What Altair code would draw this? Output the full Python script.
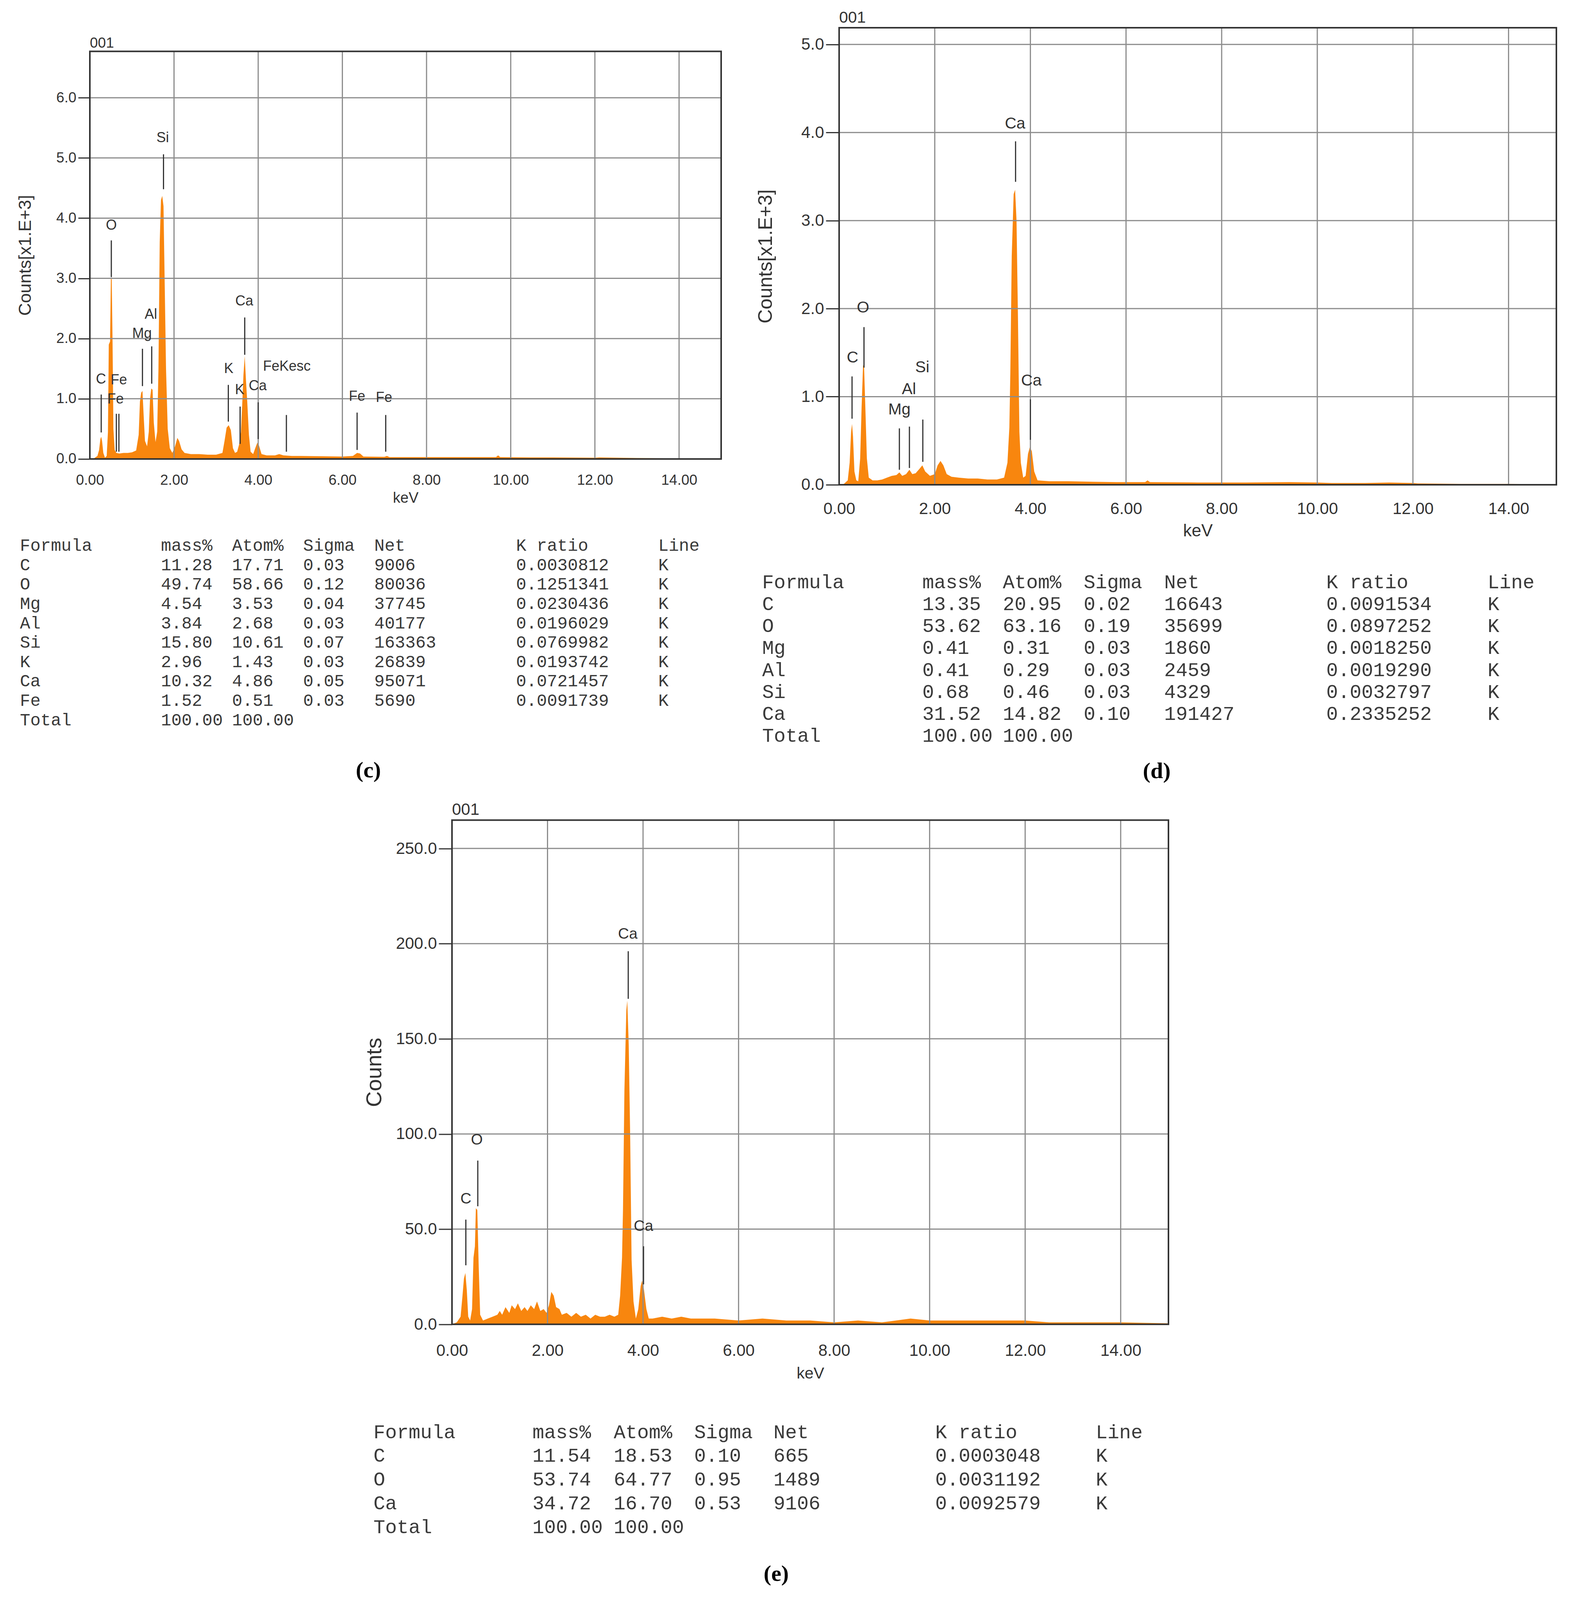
import altair as alt
import pandas as pd

# ---------------------------------------------------------------- data
# panel (c) spectrum: energy (keV) and counts (x1E+3)
c_kev = [0.00, 0.10, 0.18, 0.22, 0.25, 0.27, 0.29, 0.32, 0.36, 0.40, 0.43, 0.45, 0.48, 0.50, 0.52,
         0.54, 0.56, 0.59, 0.63, 0.70, 0.80, 0.90, 1.00, 1.10, 1.16, 1.19, 1.22, 1.25, 1.28, 1.31,
         1.36, 1.40, 1.43, 1.46, 1.49, 1.52, 1.56, 1.60, 1.63, 1.66, 1.69, 1.72, 1.75, 1.78, 1.81,
         1.85, 1.90, 1.96, 2.02, 2.08, 2.12, 2.18, 2.25, 2.40, 2.60, 2.80, 3.00, 3.15, 3.20, 3.25,
         3.30, 3.35, 3.40, 3.45, 3.50, 3.55, 3.59, 3.62, 3.65, 3.68, 3.71, 3.74, 3.78, 3.82, 3.88,
         3.93, 3.98, 4.02, 4.08, 4.20, 4.40, 4.50, 4.60, 4.80, 5.00, 5.50, 6.00, 6.25, 6.35, 6.42,
         6.50, 7.00, 7.06, 7.12, 8.00, 9.00, 9.65, 9.70, 9.75, 10.50, 11.00, 12.00, 12.10, 13.00,
         14.00, 15.00]
c_cnt = [0.00, 0.01, 0.05, 0.15, 0.33, 0.37, 0.30, 0.10, 0.02, 0.05, 0.45, 1.90, 1.95, 3.00, 2.98,
         1.92, 0.50, 0.15, 0.10, 0.09, 0.10, 0.10, 0.11, 0.14, 0.40, 0.95, 1.10, 1.13, 0.70, 0.30,
         0.21, 0.45, 1.00, 1.17, 1.15, 0.60, 0.28, 0.45, 1.50, 3.60, 4.30, 4.37, 4.20, 2.85, 1.50,
         0.50, 0.18, 0.10, 0.20, 0.35, 0.30, 0.16, 0.10, 0.08, 0.08, 0.07, 0.07, 0.10, 0.30, 0.52,
         0.56, 0.48, 0.18, 0.10, 0.12, 0.25, 0.45, 0.90, 1.40, 1.71, 1.30, 0.95, 0.40, 0.12, 0.08,
         0.18, 0.27, 0.22, 0.08, 0.06, 0.06, 0.08, 0.06, 0.05, 0.05, 0.045, 0.04, 0.05, 0.10, 0.09,
         0.04, 0.035, 0.05, 0.03, 0.03, 0.03, 0.03, 0.06, 0.03, 0.025, 0.025, 0.02, 0.025, 0.015,
         0.01, 0.005]
c_mk_x = [0.27, 0.63, 0.69, 0.51, 1.25, 1.47, 1.75, 3.29, 3.57, 3.68, 4.00, 4.67, 6.35, 7.03]
c_mk_lo = [0.44, 0.12, 0.12, 3.02, 1.21, 1.25, 4.48, 0.62, 0.25, 1.73, 0.33, 0.12, 0.15, 0.12]
c_mk_hi = [1.07, 0.75, 0.75, 3.63, 1.83, 1.87, 5.06, 1.23, 0.87, 2.35, 0.94, 0.73, 0.77, 0.73]
c_lb_txt = ["C", "Fe", "Fe", "O", "Mg", "Al", "Si", "K", "K", "Ca", "Ca", "FeKesc", "Fe", "Fe"]
c_lb_x = [0.265, 0.69, 0.61, 0.51, 1.24, 1.45, 1.73, 3.30, 3.56, 3.67, 3.99, 4.68, 6.35, 6.99]
c_lb_y = [1.32, 1.31, 0.99, 3.88, 2.08, 2.40, 5.33, 1.50, 1.15, 2.62, 1.21, 1.54, 1.04, 1.02]
c_yticks = [0, 1, 2, 3, 4, 5, 6]
c_ymax = 6.77

# panel (d)
d_kev = [0.00, 0.10, 0.18, 0.22, 0.25, 0.27, 0.29, 0.32, 0.36, 0.40, 0.44, 0.47, 0.50, 0.52, 0.55,
         0.58, 0.62, 0.70, 0.80, 0.90, 1.00, 1.10, 1.20, 1.26, 1.32, 1.40, 1.47, 1.53, 1.60, 1.68,
         1.74, 1.80, 1.90, 2.00, 2.06, 2.12, 2.18, 2.25, 2.35, 2.50, 2.70, 2.90, 3.10, 3.30, 3.45,
         3.52, 3.56, 3.58, 3.61, 3.65, 3.68, 3.71, 3.74, 3.77, 3.80, 3.85, 3.90, 3.95, 3.99, 4.03,
         4.08, 4.15, 4.40, 4.80, 5.20, 5.80, 6.40, 6.45, 6.50, 7.50, 8.50, 9.40, 10.00, 10.30, 11.00,
         11.50, 12.00, 12.10, 13.00, 14.00, 15.00]
d_cnt = [0.00, 0.01, 0.05, 0.25, 0.60, 0.69, 0.55, 0.15, 0.05, 0.04, 0.30, 0.88, 1.35, 1.37, 0.85,
         0.30, 0.08, 0.05, 0.05, 0.06, 0.08, 0.10, 0.11, 0.14, 0.10, 0.12, 0.17, 0.12, 0.13, 0.18,
         0.22, 0.15, 0.10, 0.12, 0.22, 0.27, 0.22, 0.12, 0.09, 0.08, 0.07, 0.07, 0.06, 0.06, 0.08,
         0.25, 0.65, 1.26, 2.60, 3.30, 3.35, 3.00, 1.90, 0.60, 0.25, 0.08, 0.10, 0.35, 0.43, 0.38,
         0.15, 0.05, 0.04, 0.04, 0.035, 0.03, 0.03, 0.05, 0.03, 0.025, 0.025, 0.03, 0.025, 0.02, 0.02,
         0.025, 0.02, 0.015, 0.01, 0.01, 0.005]
d_mk_x = [0.27, 0.52, 1.26, 1.47, 1.75, 3.69, 4.00]
d_mk_lo = [0.75, 1.33, 0.17, 0.19, 0.26, 3.44, 0.51]
d_mk_hi = [1.23, 1.79, 0.64, 0.66, 0.74, 3.90, 0.97]
d_lb_txt = ["C", "O", "Mg", "Al", "Si", "Ca", "Ca"]
d_lb_x = [0.28, 0.50, 1.26, 1.46, 1.74, 3.68, 4.02]
d_lb_y = [1.44, 2.01, 0.85, 1.08, 1.33, 4.10, 1.18]
d_yticks = [0, 1, 2, 3, 4, 5]
d_ymax = 5.19

# panel (e)
e_kev = [0.00, 0.10, 0.18, 0.22, 0.25, 0.28, 0.31, 0.34, 0.38, 0.42, 0.45, 0.48, 0.50, 0.53, 0.56,
         0.59, 0.65, 0.75, 0.85, 0.95, 1.00, 1.05, 1.12, 1.20, 1.25, 1.32, 1.38, 1.45, 1.52, 1.58,
         1.65, 1.72, 1.78, 1.85, 1.92, 1.98, 2.03, 2.08, 2.13, 2.18, 2.25, 2.30, 2.40, 2.50, 2.60,
         2.70, 2.80, 2.90, 3.00, 3.10, 3.20, 3.30, 3.40, 3.48, 3.52, 3.56, 3.58, 3.61, 3.65, 3.67,
         3.70, 3.73, 3.76, 3.80, 3.85, 3.90, 3.95, 3.98, 4.02, 4.07, 4.12, 4.20, 4.40, 4.60, 4.80,
         5.00, 5.50, 6.00, 6.50, 7.00, 7.50, 8.00, 8.50, 9.00, 9.60, 10.00, 10.50, 11.00, 11.50,
         12.00, 12.50, 13.00, 14.00, 15.00]
e_cnt = [0, 1, 4, 15, 24, 27, 18, 4, 2, 8, 35, 41, 61, 60, 30,
         5, 2, 3, 4, 5, 7, 5, 9, 6, 10, 8, 11, 7, 9, 7,
         10, 8, 12, 7, 8, 6, 10, 17, 15, 9, 8, 5, 6, 4, 6,
         4, 5, 3, 5, 4, 4, 5, 4, 5, 15, 35, 60, 123, 165, 170,
         147, 100, 34, 12, 3, 8, 20, 23, 18, 8, 3, 3, 4, 3, 4,
         3, 3, 2, 3, 2, 2, 1, 2, 1, 3, 2, 2, 2, 2,
         2, 1, 1, 1, 0.5]
e_mk_x = [0.29, 0.54, 3.69, 4.01]
e_mk_lo = [31, 62, 171, 21]
e_mk_hi = [55, 86, 196, 41]
e_lb_txt = ["C", "O", "Ca", "Ca"]
e_lb_x = [0.29, 0.52, 3.68, 4.01]
e_lb_y = [66, 97, 205, 51.5]
e_yticks = [0, 50, 100, 150, 200, 250]
e_ymax = 264.9

x_ticks = [0, 2, 4, 6, 8, 10, 12, 14]
x_grid = [2, 4, 6, 8, 10, 12, 14]
sample_id = "001"

# quantification tables
table_headers = ["Formula", "mass%", "Atom%", "Sigma", "Net", "K ratio", "Line"]
c_formula = ["C", "O", "Mg", "Al", "Si", "K", "Ca", "Fe"]
c_mass = [11.28, 49.74, 4.54, 3.84, 15.80, 2.96, 10.32, 1.52]
c_atom = [17.71, 58.66, 3.53, 2.68, 10.61, 1.43, 4.86, 0.51]
c_sigma = [0.03, 0.12, 0.04, 0.03, 0.07, 0.03, 0.05, 0.03]
c_net = [9006, 80036, 37745, 40177, 163363, 26839, 95071, 5690]
c_kratio = [0.0030812, 0.1251341, 0.0230436, 0.0196029, 0.0769982, 0.0193742, 0.0721457, 0.0091739]
c_line = ["K", "K", "K", "K", "K", "K", "K", "K"]

d_formula = ["C", "O", "Mg", "Al", "Si", "Ca"]
d_mass = [13.35, 53.62, 0.41, 0.41, 0.68, 31.52]
d_atom = [20.95, 63.16, 0.31, 0.29, 0.46, 14.82]
d_sigma = [0.02, 0.19, 0.03, 0.03, 0.03, 0.10]
d_net = [16643, 35699, 1860, 2459, 4329, 191427]
d_kratio = [0.0091534, 0.0897252, 0.0018250, 0.0019290, 0.0032797, 0.2335252]
d_line = ["K", "K", "K", "K", "K", "K"]

e_formula = ["C", "O", "Ca"]
e_mass = [11.54, 53.74, 34.72]
e_atom = [18.53, 64.77, 16.70]
e_sigma = [0.10, 0.95, 0.53]
e_net = [665, 1489, 9106]
e_kratio = [0.0003048, 0.0031192, 0.0092579]
e_line = ["K", "K", "K"]

total_mass = 100.00
total_atom = 100.00

# ---------------------------------------------------------------- styles
ORANGE = "#F8860E"
GRID = "#8c8c8c"
DARK = "#333333"
SANS = "Liberation Sans"
MONO = "Liberation Mono"
SERIF = "Liberation Serif"
K = 0.93  # vertical layout factor so that the whole figure stays inside the visible page


def ky(v):
    return round(v * K, 1)


def build_table(formula, mass, atom, sigma, net, kratio, line):
    rows = [{"r": 0, "c": j, "t": h} for j, h in enumerate(table_headers)]
    for i in range(len(formula)):
        vals = [formula[i], f"{mass[i]:.2f}", f"{atom[i]:.2f}", f"{sigma[i]:.2f}",
                str(net[i]), f"{kratio[i]:.7f}", line[i]]
        rows += [{"r": i + 1, "c": j, "t": v} for j, v in enumerate(vals)]
    n = len(formula) + 1
    rows += [{"r": n, "c": 0, "t": "Total"},
             {"r": n, "c": 1, "t": f"{total_mass:.2f}"},
             {"r": n, "c": 2, "t": f"{total_atom:.2f}"}]
    return pd.DataFrame(rows), n


def panel(kev, cnt, mk_x, mk_lo, mk_hi, lb_txt, lb_x, lb_y, ymax, yticks, yfmt, ytitle,
          table, caption, st):
    def xs():
        kw = dict(domain=[0, 15], nice=False, zero=False)
        if st.get("xr"):
            kw["range"] = st["xr"]
        return alt.Scale(**kw)

    def ys():
        kw = dict(domain=[0, ymax], nice=False, zero=False)
        if st.get("yr"):
            kw["range"] = st["yr"]
        return alt.Scale(**kw)

    x_axis = alt.Axis(values=x_ticks, format=".2f", title="keV", grid=False, domain=False,
                      ticks=False, tickSize=0, labelFont=SANS, labelFontSize=st["xl"],
                      labelColor=DARK, labelPadding=st["xlp"], labelFlush=False,
                      labelOverlap=False, titleFont=SANS, titleFontSize=st["xt"],
                      titleFontWeight="normal", titleColor=DARK, titlePadding=st["xtp"],
                      orient="bottom")
    y_axis = alt.Axis(values=yticks, format=yfmt, title=ytitle, grid=False, domain=False,
                      ticks=True, tickSize=st["yts"], tickWidth=3, tickColor=DARK,
                      labelFont=SANS, labelFontSize=st["yl"], labelColor=DARK,
                      labelPadding=5, labelFlush=False, labelOverlap=False,
                      titleFont=SANS, titleFontSize=st["yt"], titleFontWeight="normal",
                      titleColor=DARK, titlePadding=st["ytp"], offset=st.get("yoff", 0),
                      orient="left")

    area = alt.Chart(pd.DataFrame({"kev": kev, "cnt": cnt})).mark_area(
        color=ORANGE, interpolate="linear").encode(
        x=alt.X("kev:Q", scale=xs(), axis=x_axis), y=alt.Y("cnt:Q", scale=ys(), axis=y_axis))
    vgrid = alt.Chart(pd.DataFrame({"t": x_grid, "lo": 0.0, "hi": ymax})).mark_rule(
        color=GRID, strokeWidth=3).encode(
        x=alt.X("t:Q", scale=xs(), axis=None), y=alt.Y("lo:Q", scale=ys(), axis=None), y2="hi:Q")
    hgrid = alt.Chart(pd.DataFrame({"t": yticks[1:], "lo": 0.0, "hi": 15.0})).mark_rule(
        color=GRID, strokeWidth=3).encode(
        y=alt.Y("t:Q", scale=ys(), axis=None), x=alt.X("lo:Q", scale=xs(), axis=None), x2="hi:Q")
    markers = alt.Chart(pd.DataFrame({"x": mk_x, "lo": mk_lo, "hi": mk_hi})).mark_rule(
        color=DARK, strokeWidth=3).encode(
        x=alt.X("x:Q", scale=xs(), axis=None), y=alt.Y("lo:Q", scale=ys(), axis=None), y2="hi:Q")
    labels = alt.Chart(pd.DataFrame({"t": lb_txt, "x": lb_x, "y": lb_y})).mark_text(
        font=SANS, fontSize=st["lb"], color=DARK, align="center", baseline="middle").encode(
        x=alt.X("x:Q", scale=xs(), axis=None), y=alt.Y("y:Q", scale=ys(), axis=None), text="t:N")
    ident = alt.Chart(pd.DataFrame({"t": [sample_id], "x": [0.0], "y": [ymax]})).mark_text(
        font=SANS, fontSize=st["id"], color=DARK, align="left", baseline="middle",
        dy=st["idy"]).encode(
        x=alt.X("x:Q", scale=xs(), axis=None), y=alt.Y("y:Q", scale=ys(), axis=None), text="t:N")
    frame = alt.Chart(pd.DataFrame({"x": [0.0], "x2": [15.0], "y": [0.0], "y2": [ymax]})).mark_rect(
        fillOpacity=0, stroke=DARK, strokeWidth=4).encode(
        x=alt.X("x:Q", scale=xs(), axis=None), x2="x2:Q",
        y=alt.Y("y:Q", scale=ys(), axis=None), y2="y2:Q")

    tdf, n = table
    tbl = alt.Chart(tdf).mark_text(font=MONO, fontSize=st["tf"], color="#3a3a3a",
                                   align="left", baseline="middle").encode(
        x=alt.X("c:Q", scale=alt.Scale(domain=list(range(len(table_headers))), range=st["tcols"]),
                axis=None),
        y=alt.Y("r:Q", scale=alt.Scale(domain=[0, n], range=[st["trow0"], st["trow0"] + n * st["trsp"]]),
                axis=None),
        text="t:N")
    cap = alt.Chart(pd.DataFrame({"t": [caption]})).mark_text(
        font=SERIF, fontSize=58, fontWeight="bold", color="black",
        align="center", baseline="middle").encode(
        text="t:N", x=alt.value(st["cap"][0]), y=alt.value(st["cap"][1]))
    layers = [area, vgrid, hgrid, markers, labels, ident, frame, tbl, cap]
    if st.get("anchor"):
        anc = alt.Chart(pd.DataFrame({"a": [0]})).mark_rect(color="white").encode(
            x=alt.value(st["anchor"][0]), x2=alt.value(st["anchor"][0] + 1),
            y=alt.value(st["anchor"][1]), y2=alt.value(st["anchor"][1] + 1))
        layers.append(anc)
    return alt.layer(*layers).resolve_scale(x="independent", y="independent").properties(
        width=st["w"], height=st["h"])


st_c = dict(w=1616, h=ky(1187), yr=[ky(1187), ky(65)], xl=37, xlp=ky(39), xt=38, xtp=ky(10),
            yl=37, yts=30, yt=45, ytp=56, lb=36, id=37, idy=ky(-22),
            tf=44, tcols=[-179, 182, 364, 546, 728, 1091, 1455], trow0=ky(1426), trsp=ky(53.3),
            cap=(713, ky(2045)), anchor=(-222, -ky(67)))
st_d = dict(w=1836, h=ky(1258), xl=42, xlp=ky(45), xt=44, xtp=ky(15),
            yl=42, yts=34, yt=50, ytp=65, lb=41, id=41, idy=ky(-27),
            tf=50, tcols=[-197, 213, 419, 626, 832, 1247, 1660], trow0=ky(1527), trsp=ky(60.3),
            cap=(813, ky(2047)))
st_e = dict(w=1616, h=ky(1388), xr=[927, 2761], yoff=-927, xl=42, xlp=ky(51), xt=41, xtp=ky(19),
            yl=42, yts=34, yt=56, ytp=25, lb=39, id=42, idy=ky(-28),
            tf=50, tcols=[726, 1133, 1341, 1547, 1750, 2164, 2575], trow0=ky(1685), trsp=ky(65.5),
            cap=(1757, ky(2076)))

pc = panel(c_kev, c_cnt, c_mk_x, c_mk_lo, c_mk_hi, c_lb_txt, c_lb_x, c_lb_y, c_ymax, c_yticks,
           ".1f", "Counts[x1.E+3]",
           build_table(c_formula, c_mass, c_atom, c_sigma, c_net, c_kratio, c_line), "(c)", st_c)
pd_ = panel(d_kev, d_cnt, d_mk_x, d_mk_lo, d_mk_hi, d_lb_txt, d_lb_x, d_lb_y, d_ymax, d_yticks,
            ".1f", "Counts[x1.E+3]",
            build_table(d_formula, d_mass, d_atom, d_sigma, d_net, d_kratio, d_line), "(d)", st_d)
pe = panel(e_kev, e_cnt, e_mk_x, e_mk_lo, e_mk_hi, e_lb_txt, e_lb_x, e_lb_y, e_ymax, e_yticks,
           ".1f", "Counts",
           build_table(e_formula, e_mass, e_atom, e_sigma, e_net, e_kratio, e_line), "(e)", st_e)

chart = alt.concat(pc, pd_, pe, columns=2, spacing={"row": ky(923), "column": 302},
                   bounds="flush", align="each").properties(padding=0).configure_view(stroke=None)

chart.save("out.html", embed_options={"renderer": "svg", "actions": False})
